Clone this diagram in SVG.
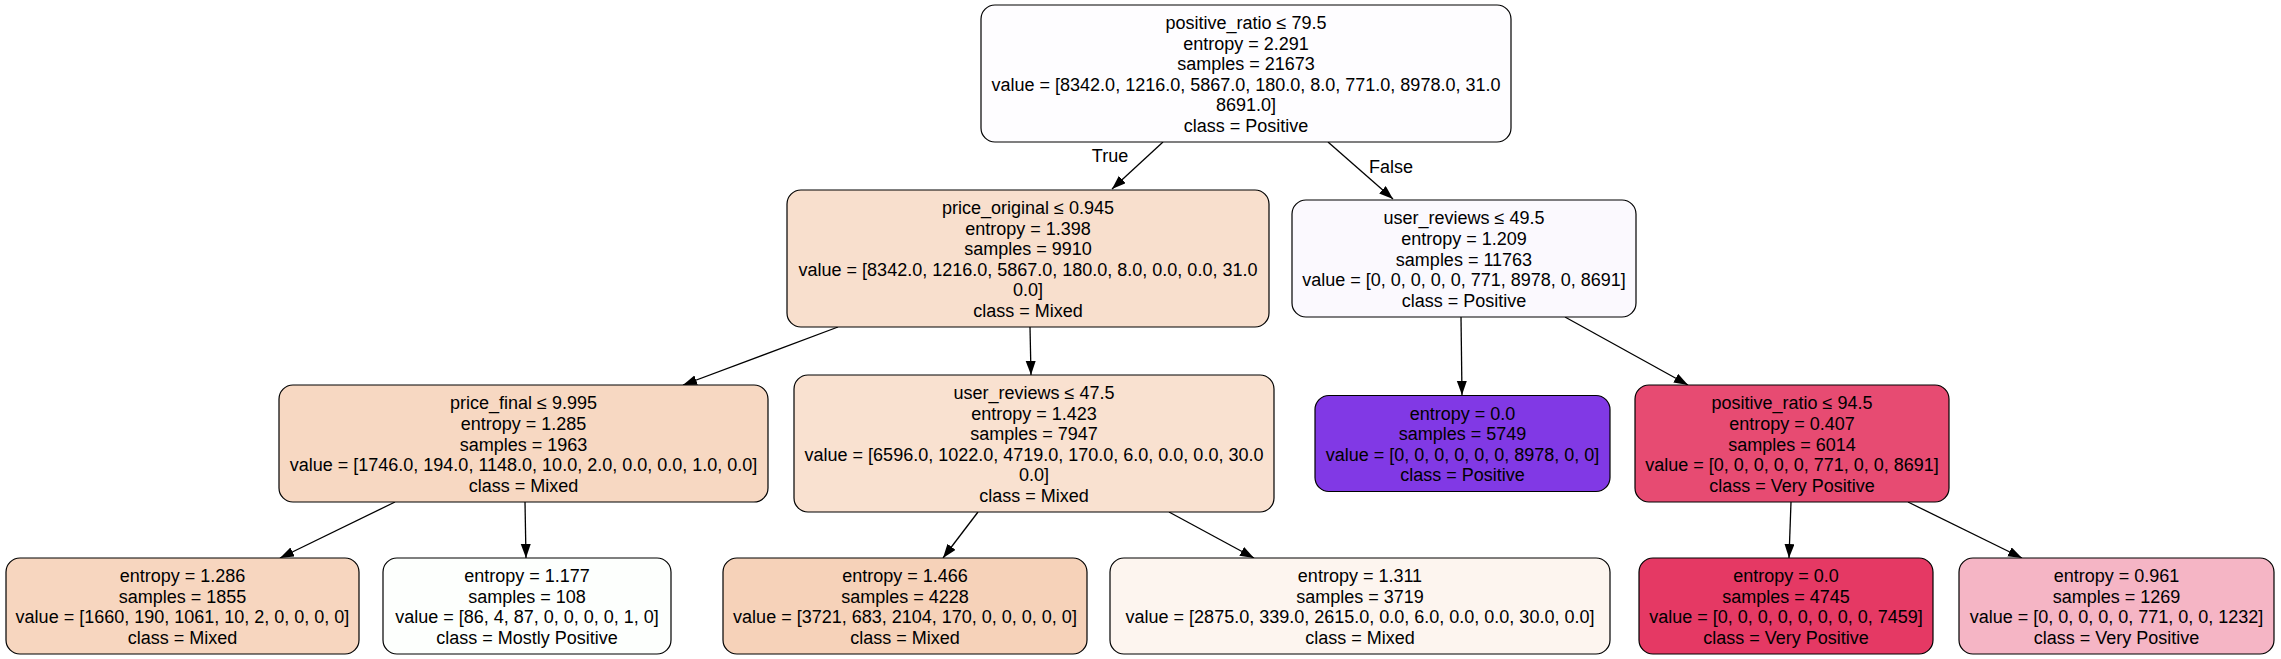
<svg xmlns="http://www.w3.org/2000/svg" width="2281" height="659" viewBox="0 0 2281 659">
<style>
.box{stroke:#000;stroke-width:1.2}
.t{font-family:"Liberation Sans",Arial,sans-serif;font-size:18px;fill:#000;text-anchor:middle}
.e{stroke:#000;stroke-width:1.3;fill:none;marker-end:url(#ah)}
</style>
<defs>
<marker id="ah" markerUnits="userSpaceOnUse" markerWidth="15" markerHeight="11" refX="14" refY="5" orient="auto">
<path d="M0,0 L14,5 L0,10 z" fill="#000"/>
</marker>
</defs>
<rect width="2281" height="659" fill="#fff"/>
<g id="connectors">
<line class="e" x1="1163" y1="142" x2="1112" y2="189"/>
<line class="e" x1="1328" y1="142" x2="1393" y2="199"/>
<line class="e" x1="838" y1="327" x2="683" y2="385"/>
<line class="e" x1="1030" y1="327" x2="1031" y2="375"/>
<line class="e" x1="1461" y1="317" x2="1462" y2="395"/>
<line class="e" x1="1565" y1="317" x2="1688" y2="385"/>
<line class="e" x1="395" y1="502" x2="280" y2="558"/>
<line class="e" x1="525" y1="502" x2="526" y2="558"/>
<line class="e" x1="978" y1="512" x2="943" y2="558"/>
<line class="e" x1="1169" y1="512" x2="1254" y2="558"/>
<line class="e" x1="1791" y1="502" x2="1789" y2="558"/>
<line class="e" x1="1908" y1="502" x2="2022" y2="558"/>
<text class="t" x="1110" y="162">True</text>
<text class="t" x="1391" y="173">False</text>
</g>
<g id="n0">
<rect class="box" x="981" y="5" width="530" height="137" rx="14" fill="#fefdff"/>
<text class="t" y="29"><tspan x="1246">positive_ratio ≤ 79.5</tspan><tspan x="1246" dy="20.6">entropy = 2.291</tspan><tspan x="1246" dy="20.6">samples = 21673</tspan><tspan x="1246" dy="20.6">value = [8342.0, 1216.0, 5867.0, 180.0, 8.0, 771.0, 8978.0, 31.0</tspan><tspan x="1246" dy="20.6">8691.0]</tspan><tspan x="1246" dy="20.6">class = Positive</tspan></text>
</g>
<g id="n1">
<rect class="box" x="787" y="190" width="482" height="137" rx="14" fill="#f8dfcd"/>
<text class="t" y="214"><tspan x="1028">price_original ≤ 0.945</tspan><tspan x="1028" dy="20.6">entropy = 1.398</tspan><tspan x="1028" dy="20.6">samples = 9910</tspan><tspan x="1028" dy="20.6">value = [8342.0, 1216.0, 5867.0, 180.0, 8.0, 0.0, 0.0, 31.0</tspan><tspan x="1028" dy="20.6">0.0]</tspan><tspan x="1028" dy="20.6">class = Mixed</tspan></text>
</g>
<g id="n2">
<rect class="box" x="1292" y="200" width="344" height="117" rx="14" fill="#fbf9fe"/>
<text class="t" y="224.3"><tspan x="1464">user_reviews ≤ 49.5</tspan><tspan x="1464" dy="20.6">entropy = 1.209</tspan><tspan x="1464" dy="20.6">samples = 11763</tspan><tspan x="1464" dy="20.6">value = [0, 0, 0, 0, 0, 771, 8978, 0, 8691]</tspan><tspan x="1464" dy="20.6">class = Positive</tspan></text>
</g>
<g id="n3">
<rect class="box" x="279" y="385" width="489" height="117" rx="14" fill="#f7d8c2"/>
<text class="t" y="409.3"><tspan x="523.5">price_final ≤ 9.995</tspan><tspan x="523.5" dy="20.6">entropy = 1.285</tspan><tspan x="523.5" dy="20.6">samples = 1963</tspan><tspan x="523.5" dy="20.6">value = [1746.0, 194.0, 1148.0, 10.0, 2.0, 0.0, 0.0, 1.0, 0.0]</tspan><tspan x="523.5" dy="20.6">class = Mixed</tspan></text>
</g>
<g id="n4">
<rect class="box" x="794" y="375" width="480" height="137" rx="14" fill="#f9e1d0"/>
<text class="t" y="399"><tspan x="1034">user_reviews ≤ 47.5</tspan><tspan x="1034" dy="20.6">entropy = 1.423</tspan><tspan x="1034" dy="20.6">samples = 7947</tspan><tspan x="1034" dy="20.6">value = [6596.0, 1022.0, 4719.0, 170.0, 6.0, 0.0, 0.0, 30.0</tspan><tspan x="1034" dy="20.6">0.0]</tspan><tspan x="1034" dy="20.6">class = Mixed</tspan></text>
</g>
<g id="n5">
<rect class="box" x="1315" y="395.5" width="295" height="96" rx="14" fill="#8139e5"/>
<text class="t" y="419.6"><tspan x="1462.5">entropy = 0.0</tspan><tspan x="1462.5" dy="20.6">samples = 5749</tspan><tspan x="1462.5" dy="20.6">value = [0, 0, 0, 0, 0, 0, 8978, 0, 0]</tspan><tspan x="1462.5" dy="20.6">class = Positive</tspan></text>
</g>
<g id="n6">
<rect class="box" x="1635" y="385" width="314" height="117" rx="14" fill="#e74b72"/>
<text class="t" y="409.3"><tspan x="1792">positive_ratio ≤ 94.5</tspan><tspan x="1792" dy="20.6">entropy = 0.407</tspan><tspan x="1792" dy="20.6">samples = 6014</tspan><tspan x="1792" dy="20.6">value = [0, 0, 0, 0, 0, 771, 0, 0, 8691]</tspan><tspan x="1792" dy="20.6">class = Very Positive</tspan></text>
</g>
<g id="n7">
<rect class="box" x="6" y="558" width="353" height="96" rx="14" fill="#f7d6bf"/>
<text class="t" y="582.1"><tspan x="182.5">entropy = 1.286</tspan><tspan x="182.5" dy="20.6">samples = 1855</tspan><tspan x="182.5" dy="20.6">value = [1660, 190, 1061, 10, 2, 0, 0, 0, 0]</tspan><tspan x="182.5" dy="20.6">class = Mixed</tspan></text>
</g>
<g id="n8">
<rect class="box" x="383" y="558" width="288" height="96" rx="14" fill="#fdfffd"/>
<text class="t" y="582.1"><tspan x="527">entropy = 1.177</tspan><tspan x="527" dy="20.6">samples = 108</tspan><tspan x="527" dy="20.6">value = [86, 4, 87, 0, 0, 0, 0, 1, 0]</tspan><tspan x="527" dy="20.6">class = Mostly Positive</tspan></text>
</g>
<g id="n9">
<rect class="box" x="723" y="558" width="364" height="96" rx="14" fill="#f6d2b9"/>
<text class="t" y="582.1"><tspan x="905">entropy = 1.466</tspan><tspan x="905" dy="20.6">samples = 4228</tspan><tspan x="905" dy="20.6">value = [3721, 683, 2104, 170, 0, 0, 0, 0, 0]</tspan><tspan x="905" dy="20.6">class = Mixed</tspan></text>
</g>
<g id="n10">
<rect class="box" x="1110" y="558" width="500" height="96" rx="14" fill="#fdf5ef"/>
<text class="t" y="582.1"><tspan x="1360">entropy = 1.311</tspan><tspan x="1360" dy="20.6">samples = 3719</tspan><tspan x="1360" dy="20.6">value = [2875.0, 339.0, 2615.0, 0.0, 6.0, 0.0, 0.0, 30.0, 0.0]</tspan><tspan x="1360" dy="20.6">class = Mixed</tspan></text>
</g>
<g id="n11">
<rect class="box" x="1639" y="558" width="294" height="96" rx="14" fill="#e53964"/>
<text class="t" y="582.1"><tspan x="1786">entropy = 0.0</tspan><tspan x="1786" dy="20.6">samples = 4745</tspan><tspan x="1786" dy="20.6">value = [0, 0, 0, 0, 0, 0, 0, 0, 7459]</tspan><tspan x="1786" dy="20.6">class = Very Positive</tspan></text>
</g>
<g id="n12">
<rect class="box" x="1959" y="558" width="315" height="96" rx="14" fill="#f5b5c5"/>
<text class="t" y="582.1"><tspan x="2116.5">entropy = 0.961</tspan><tspan x="2116.5" dy="20.6">samples = 1269</tspan><tspan x="2116.5" dy="20.6">value = [0, 0, 0, 0, 0, 771, 0, 0, 1232]</tspan><tspan x="2116.5" dy="20.6">class = Very Positive</tspan></text>
</g>
</svg>
